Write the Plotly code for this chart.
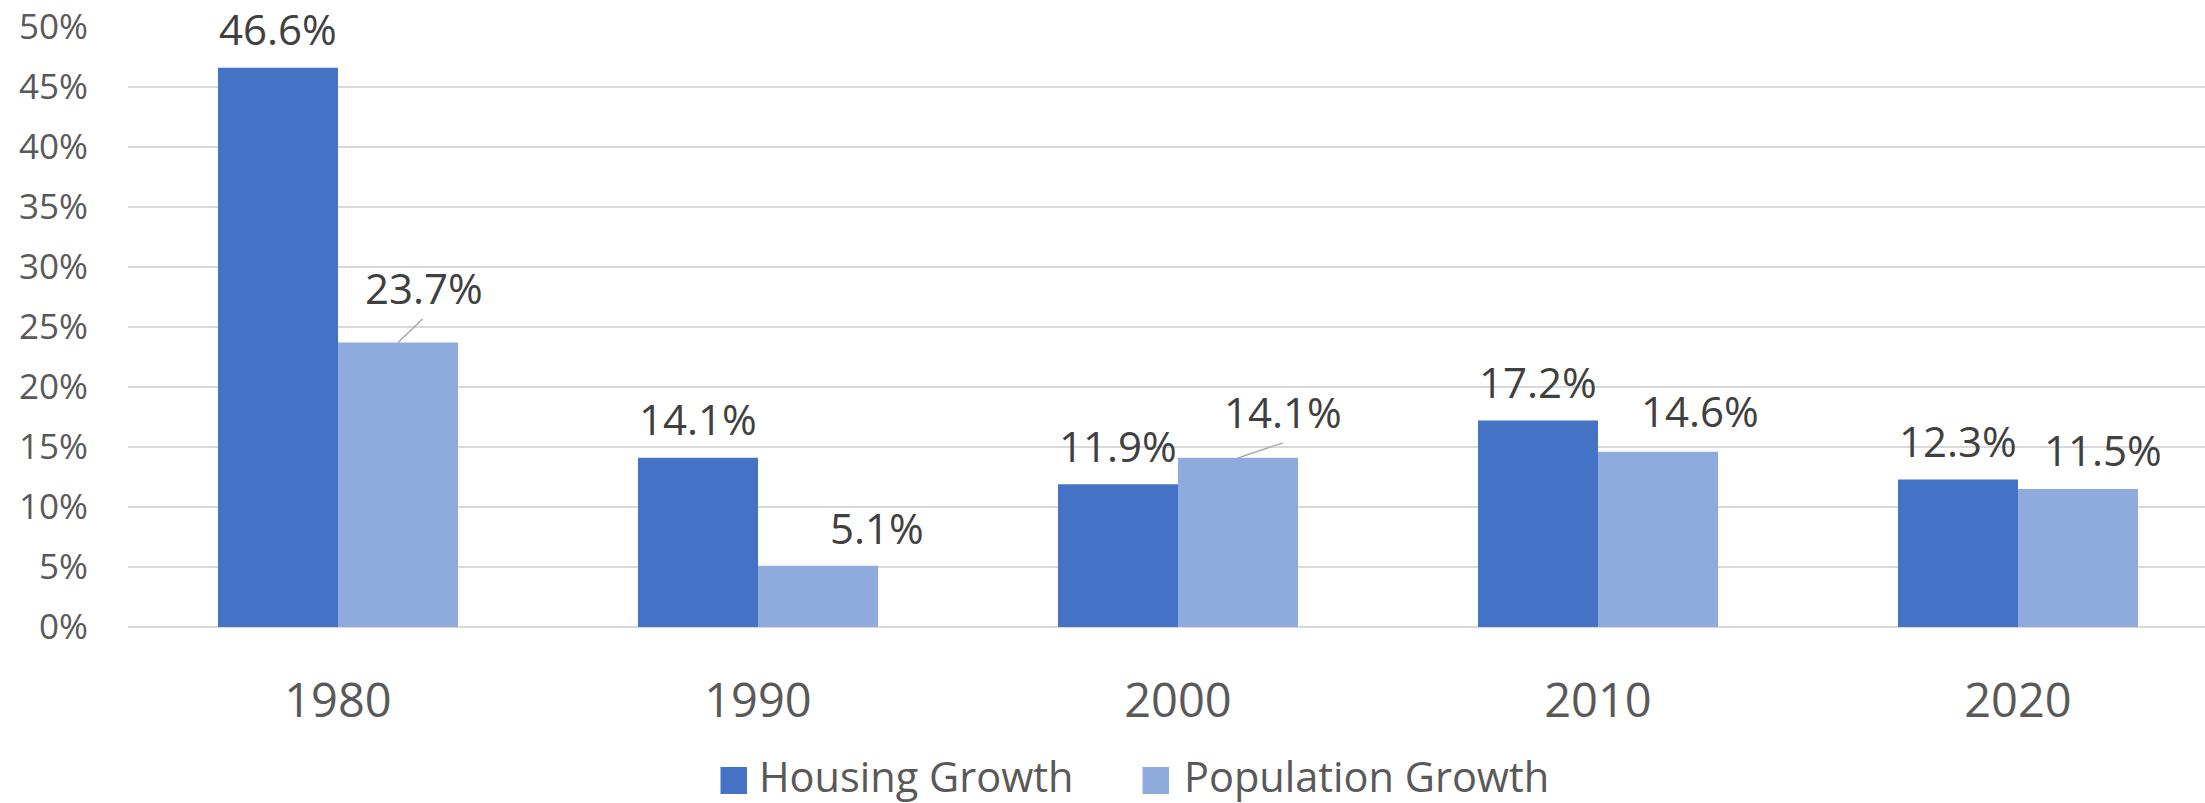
import plotly.graph_objects as go

# ---- data ----
categories = ["1980", "1990", "2000", "2010", "2020"]
housing_growth = [46.6, 14.1, 11.9, 17.2, 12.3]
population_growth = [23.7, 5.1, 14.1, 14.6, 11.5]
series_names = ["Housing Growth", "Population Growth"]
y_ticks = [0, 5, 10, 15, 20, 25, 30, 35, 40, 45, 50]

# ---- style / layout config ----
W, H = 2205, 803
M_L, M_R, M_T, M_B = 128, 0, 27, 176
PLOT_W = W - M_L - M_R
PLOT_H = H - M_T - M_B
C_HOUSING = "#4472C4"
C_POP = "#8FAADC"
FONT = "Open Sans"
BAR_OFFSET = 60  # px from category center to bar center
# label placement: (x offset from bar center, y offset of text center above bar top)
housing_label_pos = [(0, 39), (0, 39), (0, 39), (0, 39), (0, 39)]
pop_label_pos = [(26, 55), (59, 38.5), (44.5, 46.5), (41.5, 41.5), (25, 40)]
# leader lines: (category index, dx, dy) from bar top
pop_leaders = [(0, 24.5, -23.5), (2, 45, -15)]

xpos = list(range(len(categories)))


def px_to_paper_x(px):
    return (px - M_L) / PLOT_W


def px_to_paper_y(py):
    return (H - M_B - py) / PLOT_H


fig = go.Figure()
fig.add_trace(go.Bar(x=xpos, y=housing_growth, name=series_names[0],
                     marker=dict(color=C_HOUSING, line=dict(width=0)), showlegend=False))
fig.add_trace(go.Bar(x=xpos, y=population_growth, name=series_names[1],
                     marker=dict(color=C_POP, line=dict(width=0)), showlegend=False))

annotations = []
for i, v in enumerate(housing_growth):
    dx, dy = housing_label_pos[i]
    annotations.append(dict(x=xpos[i], y=v, xref="x", yref="y", text=f"{v:.1f}%",
                            showarrow=False, xanchor="center", yanchor="middle",
                            xshift=-BAR_OFFSET + dx, yshift=dy,
                            font=dict(family=FONT, size=42, color="#404040")))
for i, v in enumerate(population_growth):
    dx, dy = pop_label_pos[i]
    annotations.append(dict(x=xpos[i], y=v, xref="x", yref="y", text=f"{v:.1f}%",
                            showarrow=False, xanchor="center", yanchor="middle",
                            xshift=BAR_OFFSET + dx, yshift=dy,
                            font=dict(family=FONT, size=42, color="#404040")))
for idx, dx, dy in pop_leaders:
    annotations.append(dict(x=xpos[idx], y=population_growth[idx], xref="x", yref="y",
                            text=" ", showarrow=True, arrowhead=0, arrowwidth=1.4,
                            arrowcolor="#A6A6A6", ax=dx, ay=dy, standoff=0,
                            borderpad=0, borderwidth=0,
                            xshift=BAR_OFFSET, font=dict(size=1)))

# ---- custom legend (large swatches like the original) ----
legend_items = [(series_names[0], C_HOUSING, 720.5, 759), (series_names[1], C_POP, 1142.5, 1183.5)]
shapes = []
LEG_Y = 780.5
for name, col, sx, tx in legend_items:
    shapes.append(dict(type="rect", xref="paper", yref="paper",
                       x0=px_to_paper_x(sx), x1=px_to_paper_x(sx + 26.5),
                       y0=px_to_paper_y(LEG_Y - 13.5), y1=px_to_paper_y(LEG_Y + 13.5),
                       fillcolor=col, line=dict(width=0)))
    annotations.append(dict(x=px_to_paper_x(tx), y=px_to_paper_y(LEG_Y - 5), xref="paper", yref="paper",
                            text=name, showarrow=False, xanchor="left", yanchor="middle",
                            borderpad=0, borderwidth=0,
                            font=dict(family=FONT, size=41.5, color="#595959")))

fig.update_layout(
    width=W, height=H,
    margin=dict(l=M_L, r=M_R, t=M_T, b=M_B, pad=0),
    paper_bgcolor="white", plot_bgcolor="white",
    barmode="group", bargap=1 - 240 / 420, bargroupgap=0,
    font=dict(family=FONT, color="#595959"),
    annotations=annotations, shapes=shapes,
    showlegend=False,
)
fig.update_xaxes(range=[-0.5, -0.5 + PLOT_W / 420], tickvals=xpos, ticktext=categories,
                 showgrid=False, showline=False, zeroline=False,
                 ticks="outside", ticklen=33, tickcolor="rgba(0,0,0,0)",
                 tickfont=dict(family=FONT, size=47, color="#595959"))
fig.update_yaxes(range=[0, 50], tickvals=y_ticks, ticktext=[f"{t}%" for t in y_ticks],
                 showgrid=True, gridcolor="#D9D9D9", gridwidth=1.5,
                 zeroline=True, zerolinecolor="#D9D9D9", zerolinewidth=1.5,
                 showline=False, ticks="outside", ticklen=32, tickcolor="rgba(0,0,0,0)",
                 tickfont=dict(family=FONT, size=35, color="#595959"))

fig.write_html("out.html", config={"displayModeBar": False},
               post_script="document.body.style.margin='0';document.body.style.overflow='hidden';")
